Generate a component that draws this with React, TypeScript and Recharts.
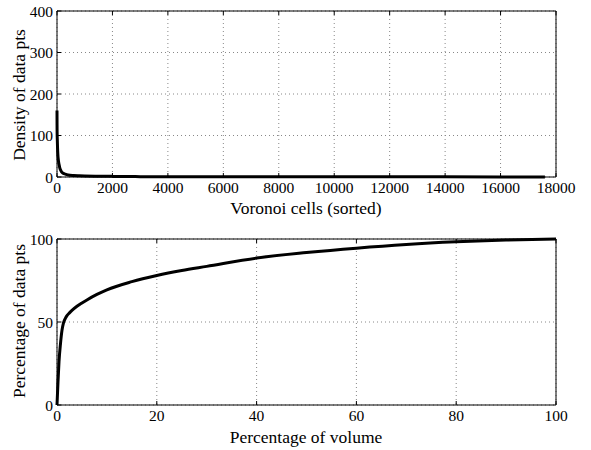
import { LineChart, Line, XAxis, YAxis, CartesianGrid } from 'recharts';

// top panel: density per Voronoi cell, cells sorted by density
const cellIndex = [0, 2, 5, 10, 20, 30, 50, 75, 100, 150, 200, 300, 400, 600, 800, 1000, 1500, 2000, 2700, 3000, 5000, 8000, 12000, 16000, 17600];
const cellDensity = [160, 125, 105, 92, 70, 55, 40, 30, 22, 14, 10, 7, 5, 3.5, 2.8, 2.3, 1.8, 1.5, 1.2, 0.8, 0.6, 0.5, 0.4, 0.3, 0.2];
const cellTicks = [0, 2000, 4000, 6000, 8000, 10000, 12000, 14000, 16000, 18000];
const densityTicks = [0, 100, 200, 300, 400];

// bottom panel: cumulative share of points vs share of volume
const volumePct = [0, 0.2, 0.4, 0.7, 1, 1.3, 1.7, 2, 2.5, 3, 4, 5, 6, 8, 10, 15, 20, 25, 30, 40, 50, 60, 70, 80, 90, 100];
const pointsPct = [0, 14, 26, 37, 45, 49.5, 52.3, 53.8, 55.5, 57, 59.5, 61.5, 63.3, 66.6, 69.4, 74.3, 78, 81, 83.5, 88.5, 91.8, 94.5, 96.7, 98.3, 99.4, 100];
const volumeTicks = [0, 20, 40, 60, 80, 100];
const pointsTicks = [0, 50, 100];

const topData = cellIndex.map((x, i) => ({ x, y: cellDensity[i] }));
const bottomData = volumePct.map((x, i) => ({ x, y: pointsPct[i] }));

const serif = 'Liberation Serif, Times New Roman, Times, serif';
const font = { fontFamily: serif, fontSize: 15.5, fill: '#000' };
const noLabel = () => <g />;

function Panel({ data, xTicks, yTicks, xMax, yMax }:{ data:{x:number;y:number}[]; xTicks:number[]; yTicks:number[]; xMax:number; yMax:number }){
  return (
    <LineChart width={591} height={200} data={data} margin={{ top: 10, right: 34, left: 0, bottom: 0 }}
      style={{ fontFamily: serif }}>
      <CartesianGrid stroke="#888" strokeDasharray="1 3" />
      <XAxis dataKey="x" type="number" domain={[0, xMax]} ticks={xTicks} height={23}
        tickSize={-4} tickMargin={9} stroke="#000" tick={font} interval={0} />
      <YAxis type="number" domain={[0, yMax]} ticks={yTicks} width={57}
        tickSize={-4} tickMargin={8} stroke="#000" tick={font} interval={0} />
      <XAxis xAxisId="top" orientation="top" dataKey="x" type="number" domain={[0, xMax]} ticks={xTicks}
        height={1} tickSize={-4} stroke="#000" tick={noLabel} interval={0} />
      <YAxis yAxisId="right" orientation="right" type="number" domain={[0, yMax]} ticks={yTicks}
        width={1} tickSize={-4} stroke="#000" tick={noLabel} interval={0} />
      <Line dataKey="y" stroke="#000" strokeWidth={3} dot={false} type="monotone" isAnimationActive={false} />
    </LineChart>
  );
}

const labelStyle: React.CSSProperties = {
  position: 'absolute', fontFamily: serif, fontSize: 17.5, lineHeight: '17px', color: '#000', whiteSpace: 'nowrap',
};

export default function App(){
  return (
    <div style={{ position: 'absolute', left: 0, top: 0, width: 591, height: 450, background: '#fff', fontFamily: serif }}>
      <div style={{ position: 'absolute', left: 0, top: 0 }}>
        <Panel data={topData} xTicks={cellTicks} yTicks={densityTicks} xMax={18000} yMax={400} />
      </div>
      <div style={{ position: 'absolute', left: 0, top: 228 }}>
        <Panel data={bottomData} xTicks={volumeTicks} yTicks={pointsTicks} xMax={100} yMax={100} />
      </div>
      <div style={{ ...labelStyle, left: 306, top: 208, transform: 'translate(-50%,-50%)' }}>Voronoi cells (sorted)</div>
      <div style={{ ...labelStyle, left: 306, top: 437, transform: 'translate(-50%,-50%)' }}>Percentage of volume</div>
      <div style={{ ...labelStyle, left: 19, top: 95, transform: 'translate(-50%,-50%) rotate(-90deg)' }}>Density of data pts</div>
      <div style={{ ...labelStyle, left: 19, top: 321, transform: 'translate(-50%,-50%) rotate(-90deg)' }}>Percentage of data pts</div>
    </div>
  );
}
